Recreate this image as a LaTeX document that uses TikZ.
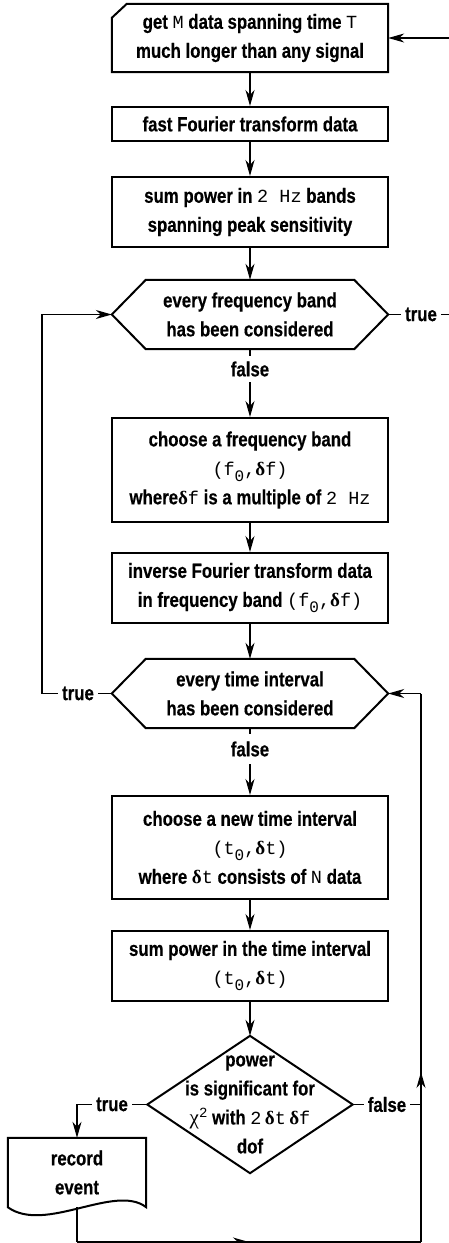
\documentclass[tikz,border=0pt]{standalone}
\usepackage{fontspec}
\setmainfont{Liberation Sans}[FakeStretch=0.82, BoldFeatures={FakeBold=0.4}]
\newfontfamily\cmonofont{Liberation Mono}
\newfontfamily\grkfont{Liberation Serif}
\usetikzlibrary{arrows.meta,decorations.markings}
\newcommand\cm[1]{{\cmonofont\mdseries\fontsize{18.5}{29}\selectfont #1}}
\newcommand\dl{{\grkfont\fontsize{19}{29}\selectfont δ}}
\newcommand\chiq{{\grkfont\mdseries\fontsize{21}{29}\selectfont χ}}
\newcommand\zsub{\raisebox{-6pt}{\cmonofont\mdseries\fontsize{16}{16}\selectfont 0}}
\newcommand\twosup{\raisebox{7pt}{\cmonofont\mdseries\fontsize{14}{14}\selectfont 2}}
\begin{document}
\begin{tikzpicture}[x=1pt,y=-1pt,
  txt/.style={font=\bfseries\fontsize{20.5}{29}\selectfont},
  shp/.style={txt, inner sep=0pt, align=center},
  bx/.style={shp, draw, line width=2pt, minimum width=276pt},
  outl/.style={line width=2pt, line join=miter},
  lab/.style={txt, inner xsep=4pt, inner ysep=0pt},
  conn/.style={line width=1.3pt},
  arr/.style={conn, -{Stealth[length=16pt,width=9pt,inset=5pt]}},
  midarr/.style={conn, postaction={decorate}, decoration={markings, mark=at position #1 with {\arrow{Stealth[length=16pt,width=9pt,inset=5pt]}}}}
]
\useasboundingbox (0,0) rectangle (449,1243);

% shapes
\node[shp, minimum width=276pt, minimum height=68pt] (b1) at (250,38) {get \cm{M} data spanning time \cm{T}\\much longer than any signal};
\draw[outl] ([yshift=-14pt]b1.north west) -- ([xshift=15pt]b1.north west) -- (b1.north east) -- (b1.south east) -- (b1.south west) -- cycle;

\node[bx, minimum height=34pt] (b2) at (250,124) {fast Fourier transform data};
\node[bx, minimum height=70pt] (b3) at (250,212) {sum power in \cm{2 Hz} bands\\spanning peak sensitivity};

\node[shp, minimum width=276pt, minimum height=69pt] (h1) at (250,314.5) {every frequency band\\has been considered};
\draw[outl] (h1.west) -- ([xshift=34pt]h1.north west) -- ([xshift=-34pt]h1.north east) -- (h1.east) -- ([xshift=-34pt]h1.south east) -- ([xshift=34pt]h1.south west) -- cycle;

\node[bx, minimum height=104pt] (b4) at (250,470) {choose a frequency band\\\cm{(f}\zsub\cm{,}\dl\cm{f)}\\where\dl\cm{f} is a multiple of \cm{2 Hz}};
\node[bx, minimum height=70pt] (b5) at (250,588) {inverse Fourier transform data\\in frequency band \cm{(f}\zsub\cm{,}\dl\cm{f)}};

\node[shp, minimum width=276pt, minimum height=69pt] (h2) at (250,693.5) {every time interval\\has been considered};
\draw[outl] (h2.west) -- ([xshift=34pt]h2.north west) -- ([xshift=-34pt]h2.north east) -- (h2.east) -- ([xshift=-34pt]h2.south east) -- ([xshift=34pt]h2.south west) -- cycle;

\node[bx, minimum height=103pt] (b6) at (250,847.5) {choose a new time interval\\\cm{(t}\zsub\cm{,}\dl\cm{t)}\\where \dl\cm{t} consists of \cm{N} data};
\node[bx, minimum height=70pt] (b7) at (250,966) {sum power in the time interval\\\cm{(t}\zsub\cm{,}\dl\cm{t)}};

\node[shp, minimum width=205pt, minimum height=137pt] (d) at (250,1104.5) {power\\is significant for\\\chiq\twosup{} with \cm{2}\,\dl\cm{t}\,\dl\cm{f}\\dof};
\draw[outl] (d.north) -- (d.east) -- (d.south) -- (d.west) -- cycle;

\node[shp, minimum width=138pt, minimum height=69pt] (rec) at (77,1172.5) {record\\event};
\draw[outl] (rec.south east) .. controls (115,1183) and (45,1234) .. (rec.south west) -- (rec.north west) -- (rec.north east) -- cycle;

% labels
\node[lab, minimum height=26pt] (f1) at (250,369) {false};
\node[lab, minimum height=30pt] (f2) at (250,749) {false};
\node[lab] (t1) at (421,314.5) {true};
\node[lab] (t2) at (78,693.5) {true};
\node[lab] (td) at (112,1104.5) {true};
\node[lab] (fd) at (387,1104.5) {false};

% coordinates
\coordinate (et) at (449,38);
\coordinate (er) at (449,314.5);
\coordinate (lc) at (42,693.5);
\coordinate (rb) at (77,1242);
\coordinate (rr) at (421,1242);
\coordinate (rt) at (421,693.5);

% connectors
\draw[arr] (et) -- (b1.east);
\draw[arr] (b1.south) -- (b2.north);
\draw[arr] (b2.south) -- (b3.north);
\draw[arr] (b3.south) -- (h1.north);
\draw[conn] (h1.east) -- (t1.west);
\draw[conn] (t1.east) -- (er);
\draw[conn] (h1.south) -- (f1.north);
\draw[arr] (f1.south) -- (b4.north);
\draw[arr] (b4.south) -- (b5.north);
\draw[arr] (b5.south) -- (h2.north);
\draw[conn] (h2.west) -- (t2.east);
\draw[arr] (t2.west) -- (lc) |- (h1.west);
\draw[conn] (h2.south) -- (f2.north);
\draw[arr] (f2.south) -- (b6.north);
\draw[arr] (b6.south) -- (b7.north);
\draw[arr] (b7.south) -- (d.north);
\draw[conn] (d.west) -- (td.east);
\draw[arr] (td.west) -| (rec.north);
\draw[conn] (d.east) -- (fd.west);
\draw[conn] (fd.east) -- (fd.east -| rr);
\draw[conn] (rec.south) -- (rb);
\draw[midarr=0.5] (rb) -- (rr);
\draw[midarr=0.31] (rr) -- (rt);
\draw[arr] (rt) -- (h2.east);
\end{tikzpicture}
\end{document}
